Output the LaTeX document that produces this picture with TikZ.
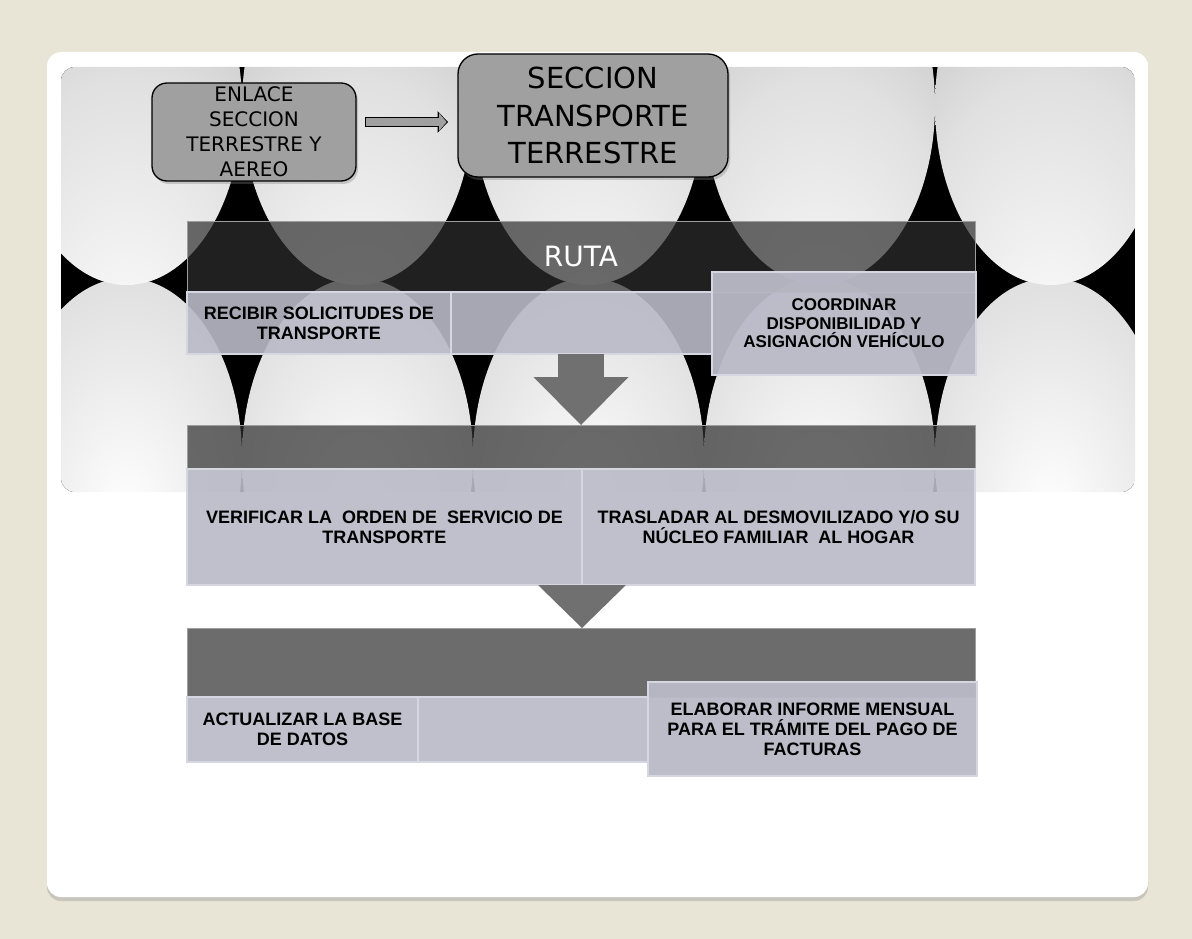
\documentclass[tikz,border=0pt]{standalone}
\usepackage{fontspec}
\setmainfont{Liberation Sans}
\newfontfamily\dejavu{DejaVu Sans}
\usepackage{tikz}
\usetikzlibrary{arrows.meta,positioning,shadows}

\definecolor{fondo}{RGB}{232,228,214}
\definecolor{cajagris}{RGB}{160,160,160}
\definecolor{lila}{RGB}{186,186,200}
\definecolor{bordelila}{RGB}{214,214,224}
\definecolor{barra}{RGB}{46,46,46}
\definecolor{flechagris}{RGB}{112,112,112}

\pgfdeclareradialshading{bolaalta}{\pgfpoint{0bp}{-38bp}}{color(0bp)=(white);
  color(12bp)=(white!95!black); color(30bp)=(white!88!black); color(45bp)=(white!78!black);
  color(58bp)=(white!64!black); color(75bp)=(white!56!black); color(100bp)=(white!50!black)}
\pgfdeclareradialshading{bolabaja}{\pgfpoint{0bp}{-8bp}}{color(0bp)=(white);
  color(12bp)=(white!95!black); color(30bp)=(white!88!black); color(45bp)=(white!78!black);
  color(58bp)=(white!64!black); color(75bp)=(white!56!black); color(100bp)=(white!50!black)}

\begin{document}
\begin{tikzpicture}
  [x=1pt,y=-1pt,
   every node/.style={rectangle,align=center,inner sep=0pt,outer sep=0pt,anchor=north west},
   titulo/.style={draw=black,line width=1.3pt,fill=cajagris,rounded corners=15pt,
     font=\dejavu\fontsize{20}{25}\selectfont,
     drop shadow={shadow xshift=2pt,shadow yshift=-3pt,opacity=0.35}},
   franja/.style={fill=barra,fill opacity=0.7,text opacity=1,draw=white!62!black,
     line width=1pt,minimum width=788pt},
   paso/.style={fill=lila,fill opacity=0.9,text opacity=1,draw=bordelila,line width=1.2pt,
     font=\bfseries\fontsize{18}{20}\selectfont},
   bajada/.style={draw=flechagris,line width=46pt,
     -{Triangle[length=48pt,width=95pt,line width=0pt]}},
   punta/.style={draw=flechagris,line width=1pt,
     -{Triangle[length=43pt,width=88pt,line width=0pt]}},
   pasajeborde/.style={draw=black,line width=10.5pt,shorten <=9pt,shorten >=10pt,
     -{Triangle[length=10.5pt,width=22pt,line width=0pt]}},
   pasaje/.style={draw=cajagris,line width=8pt,shorten <=10.3pt,shorten >=11.4pt,
     -{Triangle[length=7.6pt,width=18pt,line width=0pt]}}]

  % slide and picture behind the chart
  \fill[fondo] (0,0) rectangle (1192,939);
  \fill[white,rounded corners=14pt,drop shadow={shadow xshift=0pt,shadow yshift=-4pt,opacity=0.3}]
    (47,52) rectangle (1148,897);
  \begin{scope}
    \clip[rounded corners=14pt] (61,67) rectangle (1135,492);
    \fill[black] (61,67) rectangle (1135,492);
    \foreach \i in {0,...,4}{
      \shade[shading=bolabaja] (126.5+231*\i,458) ellipse [x radius=115.5, y radius=180];
      \shade[shading=bolaalta] (126.5+231*\i,105) ellipse [x radius=115.5, y radius=180];
    }
  \end{scope}

  \node[franja,minimum height=71pt,text=white,font=\dejavu\fontsize{28}{30}\selectfont]
    (ruta) at (187,221) {RUTA};
  \node[paso,minimum width=264pt,minimum height=62pt] (recibir) at (187,292)
    {RECIBIR SOLICITUDES DE\\TRANSPORTE};
  \node[paso,minimum width=261pt,minimum height=62pt,right=0pt of recibir] (vacio1) {};
  \node[paso,fill opacity=0.95,minimum width=264pt,minimum height=103pt,
    font=\bfseries\fontsize{17}{18.5}\selectfont]
    (coordinar) at (712,272) {COORDINAR\\DISPONIBILIDAD Y\\ASIGNACIÓN VEHÍCULO};

  \node[franja,minimum height=44pt] (paso2) at (187,425) {};
  \node[paso,minimum width=395pt,minimum height=116pt] (verificar) at (187,469)
    {VERIFICAR LA\ \ ORDEN DE\ \ SERVICIO DE\\TRANSPORTE};
  \node[paso,minimum width=393pt,minimum height=116pt,right=0pt of verificar] (trasladar)
    {TRASLADAR AL DESMOVILIZADO Y/O SU\\NÚCLEO FAMILIAR\ \ AL HOGAR};

  \node[franja,minimum height=69pt] (paso3) at (187,628) {};
  \node[paso,minimum width=231pt,minimum height=65pt] (actualizar) at (187,697)
    {ACTUALIZAR LA BASE\\DE DATOS};
  \node[paso,minimum width=230pt,minimum height=65pt,right=0pt of actualizar] (vacio3) {};
  \node[paso,fill opacity=0.95,minimum width=329pt,minimum height=94pt] (elaborar) at (648,682)
    {ELABORAR INFORME MENSUAL\\PARA EL TRÁMITE DEL PAGO DE\\FACTURAS};

  \node[titulo,minimum width=204pt,minimum height=98pt] (enlace) at (152,83)
    {ENLACE\\SECCION\\TERRESTRE Y\\AEREO};
  \node[titulo,minimum width=270pt,minimum height=123pt,rounded corners=20pt,
    font=\dejavu\fontsize{29}{37.5}\selectfont] (seccion) at (458,54)
    {SECCION\\TRANSPORTE\\TERRESTRE};
  \coordinate (nivel) at (0,122);

  % block arrows between the steps
  \path (enlace.east |- nivel) edge[pasajeborde] (seccion.west |- nivel)
        (enlace.east |- nivel) edge[pasaje] (seccion.west |- nivel);
  \path (recibir.south -| paso2.north) edge[bajada] (paso2.north);
  \path (verificar.south east) edge[punta] (verificar.south east |- paso3.north);

\end{tikzpicture}
\end{document}
